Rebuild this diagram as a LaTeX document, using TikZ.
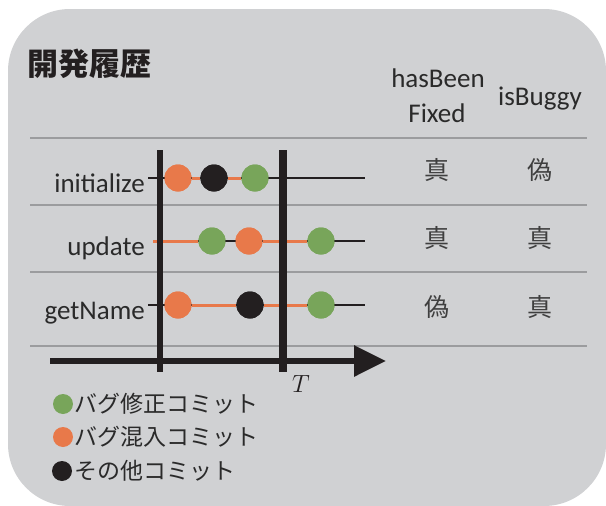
\documentclass[tikz,border=0pt]{standalone}
\usepackage{fontspec}
\setmainfont{Carlito}
\newfontfamily\jp{Noto Sans CJK JP}
\usetikzlibrary{arrows.meta}
\definecolor{panel}{HTML}{D0D1D3}
\definecolor{rule}{HTML}{9B9C9E}
\definecolor{ink}{HTML}{231F20}
\definecolor{fixc}{HTML}{78A55A}
\definecolor{bugc}{HTML}{E8794A}
\definecolor{txt}{HTML}{2A2A2A}
\tikzset{
  commit/.style={circle, minimum size=27pt, inner sep=0pt, draw=none},
  fixcommit/.style={commit, fill=fixc},
  bugcommit/.style={commit, fill=bugc},
  othercommit/.style={commit, fill=ink},
  legdot/.style={circle, minimum size=20pt, inner sep=0pt, draw=none},
  rowline/.style={draw=ink, line width=2.2pt},
  bugline/.style={draw=bugc, line width=3pt},
  sep/.style={draw=rule, line width=1.8pt},
  bar/.style={draw=ink, line width=7pt},
  method/.style={font=\fontsize{27}{30}\selectfont, text=txt, inner sep=0pt, anchor=base east},
  head/.style={font=\fontsize{27}{30}\selectfont, text=txt, inner sep=0pt, anchor=base},
  cell/.style={font=\jp\fontsize{25}{28}\selectfont, text=txt!90, inner sep=0pt},
  legtext/.style={font=\jp\fontsize{23}{26}\selectfont, text=txt, inner sep=0pt, anchor=west},
}
\begin{document}
\begin{tikzpicture}[x=1pt, y=-1pt]
  \useasboundingbox (0,0) rectangle (606,506);
  % panel
  \fill[panel, rounded corners=62pt] (8,9) rectangle (606,506);

  % title and column headings
  \node[font=\jp\bfseries\fontsize{31}{33}\selectfont, text=ink, inner sep=0pt, anchor=west] (title) at (27,64) {開発履歴};
  \node[head] (hb) at (438,87) {hasBeen};
  \node[head] (fx) at (437,122) {Fixed};
  \node[head] (ib) at (540,105) {isBuggy};

  % table rules
  \coordinate (r1a) at (30,138); \coordinate (r1b) at (587,138);
  \coordinate (r2a) at (30,205); \coordinate (r2b) at (587,205);
  \coordinate (r3a) at (30,272); \coordinate (r3b) at (587,272);
  \coordinate (r4a) at (30,346); \coordinate (r4b) at (587,346);
  \draw[sep] (r1a) -- (r1b);
  \draw[sep] (r2a) -- (r2b);
  \draw[sep] (r3a) -- (r3b);
  \draw[sep] (r4a) -- (r4b);

  % method names
  \node[method] (mi) at (145,192) {initialize};
  \node[method] (mu) at (145,255) {update};
  \node[method] (mg) at (145,319) {getName};

  % commits
  \node[bugcommit]   (i1) at (178,178) {};
  \node[othercommit] (i2) at (214,178) {};
  \node[fixcommit]   (i3) at (255,178) {};
  \node[fixcommit]   (u1) at (212,241) {};
  \node[bugcommit]   (u2) at (249,241) {};
  \node[fixcommit]   (u3) at (321,241) {};
  \node[bugcommit]   (g1) at (178,305) {};
  \node[othercommit] (g2) at (250,305) {};
  \node[fixcommit]   (g3) at (321,305) {};

  \coordinate (is) at (148,178); \coordinate (ie) at (365,178);
  \coordinate (us) at (153,241); \coordinate (ue) at (365,241);
  \coordinate (gs) at (148,305); \coordinate (ge) at (365,305);

  % history lines
  \draw[rowline] (is) -- (ie);
  \draw[rowline] (us) -- (ue);
  \draw[rowline] (gs) -- (ge);
  \draw[bugline] (i1) -- (i2);
  \draw[bugline] (i2) -- (i3);
  \draw[bugline] (us) -- (u1);
  \draw[bugline] (u2) -- (u3);
  \draw[bugline] (g1) -- (g2);
  \draw[bugline] (g2) -- (g3);

  % time axis and boundaries
  \coordinate (ax0) at (50,361); \coordinate (ax1) at (386,361);
  \draw[draw=ink, line width=6pt, -{Triangle[length=32pt,width=30pt]}] (ax0) -- (ax1);
  \coordinate (b1t) at (160,150); \coordinate (b1b) at (160,372);
  \coordinate (b2t) at (283,150); \coordinate (b2b) at (283,372);
  \draw[bar, line width=6pt] (b1t) -- (b1b);
  \draw[bar, line width=8.5pt] (b2t) -- (b2b);
  \node[font=\fontsize{26}{28}\selectfont\rmfamily\itshape, text=ink, inner sep=0pt] (tl) at (301,384) {$T$};

  % commits drawn again on top of the lines
  \foreach \n/\s in {i1/bugcommit,i2/othercommit,i3/fixcommit,u1/fixcommit,u2/bugcommit,u3/fixcommit,g1/bugcommit,g2/othercommit,g3/fixcommit}
    \node[\s] at (\n.center) {};

  % table cells
  \node[cell] (c11) at (437,170) {真};
  \node[cell] (c12) at (540,170) {偽};
  \node[cell] (c21) at (437,238) {真};
  \node[cell] (c22) at (540,238) {真};
  \node[cell] (c31) at (437,307) {偽};
  \node[cell] (c32) at (540,307) {真};

  % legend
  \node[legdot, fill=fixc] (lg) at (63,404) {};
  \node[legdot, fill=bugc] (lb) at (63,437) {};
  \node[legdot, fill=ink]  (lo) at (62,471) {};
  \node[legtext] (tg) at (74,404) {バグ修正コミット};
  \node[legtext] (tb) at (74,437) {バグ混入コミット};
  \node[legtext] (to) at (74,471) {その他コミット};
\end{tikzpicture}
\end{document}
